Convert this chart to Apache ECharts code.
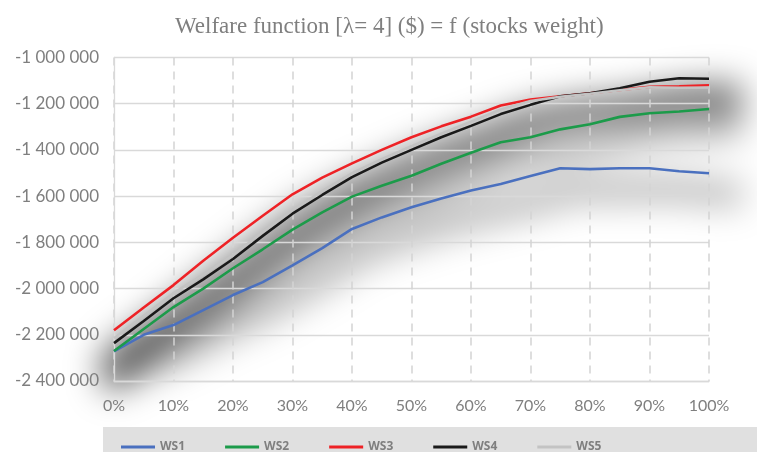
<!DOCTYPE html>
<html>
<head>
<meta charset="utf-8">
<script src="https://cdn.jsdelivr.net/npm/echarts@6/dist/echarts.min.js"></script>
<style>
  html, body { margin: 0; padding: 0; background: #fff; }
  #wrap { position: relative; width: 757px; height: 452px; overflow: hidden; background: #fff; }
  #shade, #chart { position: absolute; left: 0; top: 0; width: 757px; height: 452px; }
  /* soft drop shadow under the curves */
  #shade { filter: blur(16px); transform-origin: 411px 215px; transform: translate(12px, 24px) scale(1.07); }
</style>
</head>
<body>
<div id="wrap"><div id="shade"></div><div id="chart"></div></div>
<script>
// stocks weight in the portfolio (%)
const stockWeight = [0, 5, 10, 15, 20, 25, 30, 35, 40, 45, 50, 55, 60, 65, 70, 75, 80, 85, 90, 95, 100];

// welfare ($) for each scenario
const ws1 = [-2272000, -2200000, -2158000, -2093000, -2028000, -1972000, -1900000, -1825000, -1742000, -1692000, -1648000,
             -1610000, -1576000, -1547000, -1513000, -1479000, -1483000, -1479000, -1479000, -1492000, -1501000];
const ws2 = [-2270000, -2175000, -2080000, -2000000, -1912000, -1830000, -1745000, -1670000, -1602000, -1555000, -1512000,
             -1460000, -1412000, -1367000, -1345000, -1311000, -1289000, -1257000, -1241000, -1234000, -1223000];
const ws3 = [-2180000, -2082000, -1985000, -1880000, -1780000, -1685000, -1592000, -1520000, -1458000, -1400000, -1345000,
             -1298000, -1256000, -1208000, -1182000, -1168000, -1155000, -1140000, -1127000, -1125000, -1120000];
const ws4 = [-2236000, -2140000, -2042000, -1960000, -1872000, -1772000, -1676000, -1595000, -1518000, -1455000, -1400000,
             -1345000, -1296000, -1245000, -1205000, -1168000, -1155000, -1133000, -1105000, -1090000, -1092000];
const ws5 = [-2215000, -2118000, -2020000, -1940000, -1855000, -1755000, -1660000, -1578000, -1501000, -1440000, -1384000,
             -1330000, -1278000, -1225000, -1188000, -1170000, -1157000, -1142000, -1129000, -1131000, -1130000];

const seriesNames = ['WS1', 'WS2', 'WS3', 'WS4', 'WS5'];
const seriesColors = ['#4a70bf', '#1c9b4a', '#ee2226', '#1a1a1a', '#c3c3c3'];
const seriesValues = [ws1, ws2, ws3, ws4, ws5];

const yMin = -2400000, yMax = -1000000, yStep = 200000;

function spaced(v) {
  const s = Math.abs(v).toString().replace(/\B(?=(\d{3})+(?!\d))/g, ' ');
  return (v < 0 ? '-' : '') + s;
}

const grid = { left: 114, right: 48, top: 57.5, bottom: 71, outerBoundsMode: 'none' };

function pairs(values) {
  return values.map((v, i) => [stockWeight[i], v]);
}

// shadow layer: thick translucent strokes, blurred by CSS
const shade = echarts.init(document.getElementById('shade'), null, { renderer: 'canvas' });
shade.setOption({
  animation: false,
  grid: grid,
  xAxis: { type: 'value', min: 0, max: 100, show: false },
  yAxis: { type: 'value', min: yMin, max: yMax, show: false },
  series: seriesValues.map((vals) => ({
    type: 'line', data: pairs(vals), showSymbol: false, silent: true, smooth: 0.2,
    lineStyle: { width: 22, color: 'rgba(0,0,0,0.3)' }
  }))
});

const chart = echarts.init(document.getElementById('chart'), null, { renderer: 'canvas' });
chart.setOption({
  animation: false,
  backgroundColor: 'transparent',
  title: {
    text: 'Welfare function [λ= 4] ($) = f (stocks weight)',
    left: 175, top: 15, padding: 0,
    textStyle: { fontFamily: 'Liberation Serif', fontSize: 23, fontWeight: 'normal', color: '#7f7f7f' }
  },
  graphic: [{
    type: 'rect', left: 103, top: 427, z: -10,
    shape: { width: 654, height: 25 },
    style: { fill: '#e0e0e0' }
  }],
  legend: {
    data: seriesNames,
    left: 121, top: 441, padding: 0,
    icon: 'rect', itemWidth: 34, itemHeight: 3, itemGap: 40,
    textStyle: { fontFamily: 'Noto Sans', fontSize: 12, fontWeight: 'bold', color: '#7f7f7f' }
  },
  grid: grid,
  xAxis: {
    type: 'value', min: 0, max: 100, interval: 10,
    axisLine: { show: true, lineStyle: { color: '#d9d9d9', width: 1.3 } },
    axisTick: { show: false },
    axisLabel: { formatter: '{value}%', margin: 17, fontFamily: 'Lato', fontSize: 16, color: '#7f7f7f' },
    splitLine: { show: true, lineStyle: { color: '#d4d4d4', width: 1.5, type: [8, 6] } }
  },
  yAxis: {
    type: 'value', min: yMin, max: yMax, interval: yStep,
    axisLine: { show: true, lineStyle: { color: '#d9d9d9', width: 1.3 } },
    axisTick: { show: false },
    axisLabel: { formatter: spaced, margin: 15, fontFamily: 'Lato', fontSize: 17, color: '#7f7f7f' },
    splitLine: { show: true, lineStyle: { color: '#d9d9d9', width: 1.3 } }
  },
  series: seriesValues.map((vals, i) => ({
    name: seriesNames[i], type: 'line', data: pairs(vals),
    showSymbol: false, color: seriesColors[i],
    lineStyle: { width: 2.6, color: seriesColors[i] }
  }))
});
</script>
</body>
</html>
